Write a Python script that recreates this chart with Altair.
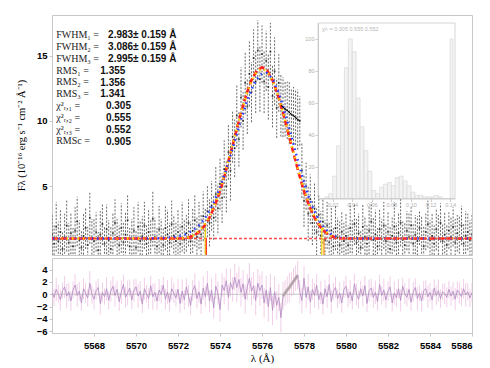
import altair as alt
import pandas as pd

# ---------------- data ----------------
wave = [round(5566.0 + 0.1 * i, 1) for i in range(201)]

flux = [
    1.3, 0.6, 1.9, 0.8, 1.5, 0.2, 1.1, 2.0, 0.7, 1.4,
    0.4, 1.6, 2.3, 0.9, 0.3, 1.2, 1.8, 0.5, 2.6, 1.0,
    0.8, 1.5, 0.1, 1.3, 2.1, 0.6, 1.7, 0.9, 0.2, 1.4,
    2.2, 1.1, 0.5, 1.8, 0.7, 1.3, 2.4, 0.4, 1.0, 1.6,
    0.3, 1.9, 0.8, 1.2, 2.0, 0.6, 1.5, 0.9, 2.5, 1.1,
    0.4, 1.7, 1.0, 0.5, 1.8, 1.3, 0.7, 2.1, 1.2, 0.8,
    1.5, 0.6, 1.9, 0.9, 1.4, 2.2, 0.8, 1.6, 2.4, 1.1,
    2.0, 1.3, 2.7, 1.6, 3.1, 2.2, 3.5, 2.6, 4.4, 3.3,
    5.2, 4.1, 6.3, 5.0, 7.6, 6.2, 8.8, 7.9, 10.4, 8.6,
    11.8, 10.0, 12.9, 11.1, 13.6, 12.2, 14.8, 13.0, 15.4, 13.2,
    15.1, 13.0, 14.6, 12.6, 15.3, 11.9, 13.8, 11.0, 12.9, 11.2,
    11.05, 10.9, 10.8, 10.65, 10.5, 10.4, 10.25, 10.1, 10.0, 6.2,
    3.9, 5.0, 2.9, 4.0, 2.2, 3.3, 1.5, 2.8, 1.2, 2.3,
    0.9, 2.0, 0.7, 1.6, 0.4, 1.8, 1.1, 0.5, 1.5, 0.8,
    1.2, 0.5, 1.8, 1.0, 2.1, 0.7, 1.4, 0.3, 1.9, 1.1,
    0.6, 1.6, 2.3, 0.9, 1.3, 0.4, 1.7, 1.0, 2.0, 0.8,
    1.5, 0.2, 1.2, 1.9, 0.7, 1.4, 2.2, 0.9, 0.5, 1.6,
    1.1, 2.0, 0.6, 1.3, 0.8, 1.8, 1.0, 0.4, 1.5, 2.1,
    0.9, 1.2, 0.6, 1.7, 1.0, 2.2, 0.8, 1.3, 0.5, 1.6,
    1.1, 1.9, 0.7, 1.4, 1.0, 2.0, 0.6, 1.2, 1.5, 0.9,
    1.3,
]

flux_err = [
    1.6, 1.4, 1.9, 1.5, 1.7, 1.3, 1.8, 2.0, 1.5, 1.6,
    1.4, 1.8, 1.9, 1.5, 1.3, 1.7, 1.6, 1.4, 2.0, 1.5,
    1.7, 1.5, 1.4, 1.8, 1.6, 1.3, 1.9, 1.5, 1.7, 1.6,
    1.8, 1.4, 1.5, 1.9, 1.6, 1.7, 2.0, 1.4, 1.5, 1.8,
    1.3, 1.9, 1.6, 1.5, 1.8, 1.4, 1.7, 1.6, 2.1, 1.5,
    1.4, 1.8, 1.5, 1.3, 1.7, 1.9, 1.5, 1.8, 1.6, 1.4,
    1.7, 1.5, 1.9, 1.6, 1.4, 1.8, 1.5, 1.7, 2.0, 1.6,
    1.8, 1.6, 1.9, 1.7, 2.0, 1.8, 1.9, 1.7, 2.1, 1.9,
    2.0, 1.9, 2.2, 2.0, 2.1, 2.3, 2.0, 2.2, 2.4, 2.1,
    2.3, 2.2, 2.4, 2.1, 2.5, 2.3, 2.2, 2.4, 2.3, 2.5,
    2.2, 2.4, 2.3, 2.5, 2.2, 2.4, 2.6, 2.3, 2.2, 2.4,
    2.3, 2.1, 2.2, 2.4, 2.0, 2.2, 2.1, 2.3, 1.9, 2.1,
    2.0, 1.8, 2.1, 1.9, 1.7, 2.0, 1.8, 1.6, 1.9, 1.7,
    1.5, 1.8, 1.6, 1.9, 1.4, 1.7, 1.5, 1.8, 1.6, 1.4,
    1.7, 1.5, 1.9, 1.4, 1.6, 1.8, 1.5, 1.3, 1.7, 1.6,
    1.4, 1.8, 1.5, 1.7, 1.9, 1.4, 1.6, 1.5, 1.8, 1.3,
    1.6, 1.7, 1.4, 1.9, 1.5, 1.6, 1.8, 1.4, 1.7, 1.5,
    1.8, 1.4, 1.6, 1.5, 1.9, 1.3, 1.7, 1.6, 1.4, 1.8,
    1.5, 1.7, 1.4, 1.6, 1.8, 1.5, 1.3, 1.7, 1.6, 1.4,
    1.6, 1.5, 1.8, 1.4, 1.7, 1.5, 1.6, 1.9, 1.4, 1.5,
    1.6,
]

resid = [
    0.3, -0.5, 0.8, 0.1, -0.9, 0.6, 1.2, -0.3, 0.4, -1.1,
    0.7, 1.5, -0.2, 0.5, -1.4, 0.9, 0.2, -0.6, 1.8, 0.0,
    -0.8, 0.6, 1.1, -1.5, 0.3, -0.4, 0.9, -1.0, 0.5, 1.3,
    -0.2, 0.8, -1.2, 0.4, 1.6, -0.5, 0.2, 1.0, -0.9, 0.6,
    1.2, -0.3, 0.5, -1.6, 0.9, 0.1, -0.7, 1.4, -0.4, 0.3,
    -1.1, 0.7, 0.0, 1.5, -0.8, 0.4, -1.3, 0.9, 0.2, -0.6,
    0.8, -1.5, 0.5, -0.9, 1.2, -0.3, -1.8, 0.6, 1.4, -0.7,
    0.4, -1.6, 1.0, -0.4, 1.8, -1.1, 0.7, -2.2, 1.3, 0.2,
    -2.5, 1.5, 0.6, 2.2, -0.5, 1.9, 0.8, 2.8, 1.1, 2.4,
    0.3, 1.7, -0.8, 1.2, 2.6, 0.5, 1.4, -1.0, 1.8, 0.6,
    1.5, -1.4, 0.7, -2.0, 1.1, -2.6, 0.4, -1.8, -0.5, -3.8,
    -0.3, 0.2, 0.7, 1.1, 1.6, 2.1, 2.6, 3.1, 0.4, -1.0,
    2.6, -0.5, 1.2, -1.3, 0.8, -0.2, 1.5, -0.9, 0.3, -1.6,
    0.9, -0.4, 1.6, -1.2, 0.5, 1.1, -0.7, 0.2, -1.4, 0.8,
    1.3, -0.6, 0.4, -1.1, 1.7, 0.0, -0.8, 0.9, -0.3, 1.4,
    -1.5, 0.6, 1.0, -0.5, 0.3, -1.2, 1.6, -0.2, 0.7, -0.9,
    0.5, 1.2, -1.4, 0.2, -0.6, 0.9, -1.0, 1.3, 0.1, -0.5,
    0.8, -1.3, 0.4, 1.1, -0.7, 0.2, -1.1, 0.6, 0.9, -0.4,
    0.3, -0.9, 1.0, -0.2, 0.6, -0.7, 0.4, 0.1, -0.5, 0.8,
    -0.3, 0.5, -0.8, 0.7, 0.2, -0.4, 0.9, -0.1, 0.4, -0.6,
    0.3,
]

model_wave = [5566.0,
              5571.0, 5571.25, 5571.5, 5571.75, 5572.0, 5572.25, 5572.5, 5572.75,
              5573.0, 5573.25, 5573.5, 5573.75, 5574.0, 5574.25, 5574.5, 5574.75,
              5575.0, 5575.25, 5575.5, 5575.75, 5576.0, 5576.25, 5576.5, 5576.75,
              5577.0, 5577.25, 5577.5, 5577.75, 5578.0, 5578.25, 5578.5, 5578.75,
              5579.0, 5579.25, 5579.5, 5579.75, 5580.0, 5580.25, 5580.5, 5580.75,
              5581.0, 5586.0]
model_red = [1.00,
             1.00, 1.00, 1.00, 1.00, 1.00, 1.02, 1.08, 1.22,
             1.50, 1.95, 2.60, 3.50, 4.60, 6.00, 7.52, 9.07,
             10.61, 12.01, 13.12, 13.85, 14.10, 13.85, 13.12, 12.01,
             10.61, 9.07, 7.52, 6.00, 4.60, 3.50, 2.60, 1.95,
             1.50, 1.22, 1.08, 1.02, 1.00, 1.00, 1.00, 1.00,
             1.00, 1.00]
model_yellow = [1.00,
                1.00, 1.00, 1.00, 1.00, 1.00, 1.03, 1.10, 1.26,
                1.56, 2.03, 2.70, 3.60, 4.72, 6.10, 7.60, 9.12,
                10.62, 11.98, 13.05, 13.76, 14.00, 13.76, 13.05, 11.98,
                10.62, 9.12, 7.60, 6.10, 4.72, 3.60, 2.70, 2.03,
                1.56, 1.26, 1.10, 1.03, 1.00, 1.00, 1.00, 1.00,
                1.00, 1.00]
model_blue = [1.00,
              1.01, 1.03, 1.05, 1.09, 1.16, 1.26, 1.42, 1.67,
              2.01, 2.49, 3.12, 3.92, 4.91, 6.06, 7.34, 8.71,
              10.07, 11.33, 12.40, 13.19, 13.63, 13.66, 13.22, 12.34,
              11.13, 9.73, 8.22, 6.72, 5.31, 4.05, 3.08, 2.30,
              1.75, 1.38, 1.16, 1.05, 1.02, 1.00, 1.00, 1.00,
              1.00, 1.00]

continuum_level = [1.0]

vline_wave = [5573.3, 5573.35, 5578.85, 5578.95]
vline_top = [1.8, 1.0, 1.8, 1.0]
vline_color = ["#f2d600", "#ff3030", "#f2d600", "#ff8c00"]

hist_left = [0.012, 0.016, 0.020, 0.024, 0.028, 0.032, 0.036, 0.040, 0.044, 0.048,
             0.052, 0.056, 0.060, 0.064, 0.068, 0.072, 0.076, 0.080, 0.084, 0.088,
             0.092, 0.096, 0.100, 0.104, 0.108, 0.112, 0.116, 0.120, 0.124, 0.128,
             0.140]
hist_right = [0.016, 0.020, 0.024, 0.028, 0.032, 0.036, 0.040, 0.044, 0.048, 0.052,
              0.056, 0.060, 0.064, 0.068, 0.072, 0.076, 0.080, 0.084, 0.088, 0.092,
              0.096, 0.100, 0.104, 0.108, 0.112, 0.116, 0.120, 0.124, 0.128, 0.132,
              0.143]
hist_count = [1, 3, 14, 33, 55, 82, 100, 92, 63, 45,
              30, 17, 5, 3, 7, 9, 10, 8, 13, 14,
              11, 8, 4, 2, 2, 1, 1, 1, 2, 1,
              100]

stat_names = ["FWHM\u2081 =", "FWHM\u2082 =", "FWHM\u2083 =",
              "RMS\u2081 =", "RMS\u2082 =", "RMS\u2083 =",
              "\u03c7\u00b2\u1d63,\u2081 =", "\u03c7\u00b2\u1d63,\u2082 =", "\u03c7\u00b2\u1d63,\u2083 =",
              "RMSc ="]
fwhm_vals = ["2.983\u00b1 0.159 \u00c5", "3.086\u00b1 0.159 \u00c5", "2.995\u00b1 0.159 \u00c5"]
rms_vals = ["1.355", "1.356", "1.341"]
chi_vals = ["0.305", "0.555", "0.552", "0.905"]

resid_ticks = [-6, -4, -2, 0, 2, 4]

# ---------------- frames ----------------
spec = pd.DataFrame({"wave": wave, "flux": flux, "err": flux_err, "resid": resid})
spec["lo"] = spec["flux"] - spec["err"]
spec["hi"] = spec["flux"] + spec["err"]
spec["rlo"] = spec["resid"] - spec["err"]
spec["rhi"] = spec["resid"] + spec["err"]

models = pd.DataFrame({"wave": model_wave, "red": model_red,
                       "yellow": model_yellow, "blue": model_blue})
vlines = pd.DataFrame({"wave": vline_wave, "top": vline_top, "col": vline_color})
hist = pd.DataFrame({"a": hist_left, "b": hist_right, "n": hist_count})
one = pd.DataFrame({"k": [0]})

SERIF = "Liberation Serif"
SANS = "Liberation Sans"

xs = alt.Scale(domain=[5566, 5586], nice=False, zero=False)
ys = alt.Scale(domain=[-0.26, 18.1], nice=False, zero=False)


def X(field):
    return alt.X(field, scale=xs, axis=None)


base = alt.Chart(spec)

err_main = base.mark_rule(strokeDash=[2, 1.5], strokeWidth=0.9, color="#202020",
                          opacity=0.75, clip=True).encode(
    x=X("wave:Q"),
    y=alt.Y("lo:Q", scale=ys,
            axis=alt.Axis(title="F\u03bb (10\u207b\u00b9\u2076 erg s\u207b\u00b9 cm\u207b\u00b2 \u00c5\u207b\u00b9)",
                          values=[5, 10, 15], tickSize=3, domain=False, labelOverlap=False,
                          tickColor="#c8c8c8", titleFont=SERIF, titleFontSize=10.5,
                          titleFontWeight="normal", titlePadding=10)),
    y2="hi:Q",
)
pts_main = base.mark_square(size=3, color="black", clip=True).encode(
    x=X("wave:Q"), y=alt.Y("flux:Q", scale=ys))

mask_line = base.transform_filter(
    (alt.datum.wave > 5576.85) & (alt.datum.wave < 5577.85)
).mark_line(color="black", strokeWidth=1, clip=True).encode(
    x=X("wave:Q"), y=alt.Y("flux:Q", scale=ys))

cont = alt.Chart(pd.DataFrame({"c": continuum_level})).mark_rule(
    color="#ff3838", strokeDash=[3, 2], strokeWidth=1.5, opacity=0.9).encode(
    y=alt.Y("c:Q", scale=ys))

mbase = alt.Chart(models)
m_red = mbase.mark_line(color="#ff2020", strokeWidth=2.6, strokeDash=[6, 3], clip=True).encode(
    x=X("wave:Q"), y=alt.Y("red:Q", scale=ys))
m_yellow = mbase.mark_line(color="#ffd400", strokeWidth=2.4, strokeDash=[1.5, 4],
                           strokeDashOffset=2, clip=True).encode(
    x=X("wave:Q"), y=alt.Y("yellow:Q", scale=ys))
m_blue = mbase.mark_line(color="#2a3cff", strokeWidth=2.4, strokeDash=[1.5, 4],
                         strokeDashOffset=4.5, clip=True).encode(
    x=X("wave:Q"), y=alt.Y("blue:Q", scale=ys))

vl = alt.Chart(vlines).mark_rule(strokeWidth=1.2, clip=True).encode(
    x=X("wave:Q"), y=alt.Y("top:Q", scale=ys), y2=alt.datum(-0.26),
    color=alt.Color("col:N", scale=None))

txt_names = alt.Chart(one).mark_text(
    text="\n".join(stat_names), lineBreak="\n", align="left", baseline="top",
    font=SERIF, fontSize=10, lineHeight=11.8, color="#222").encode(
    x=alt.datum(5566.2), y=alt.datum(16.93))
txt_fwhm = alt.Chart(one).mark_text(
    text="\n".join(fwhm_vals), lineBreak="\n", align="left", baseline="top",
    font=SANS, fontSize=10, fontWeight="bold", lineHeight=11.8, color="#111").encode(
    x=alt.datum(5568.67), y=alt.datum(16.93))
txt_rms = alt.Chart(one).mark_text(
    text="\n".join(rms_vals), lineBreak="\n", align="left", baseline="top",
    font=SANS, fontSize=10, fontWeight="bold", lineHeight=11.8, color="#111").encode(
    x=alt.datum(5568.3), y=alt.datum(14.22))
txt_chi = alt.Chart(one).mark_text(
    text="\n".join(chi_vals), lineBreak="\n", align="left", baseline="top",
    font=SANS, fontSize=10, fontWeight="bold", lineHeight=11.8, color="#111").encode(
    x=alt.datum(5568.57), y=alt.datum(11.51))

main_layers = alt.layer(err_main, pts_main, m_red, m_yellow, m_blue, cont,
                        vl, mask_line, txt_names, txt_fwhm, txt_rms, txt_chi)

# ---------------- inset ----------------
ixs = alt.Scale(domain=[0.005, 0.145], range=[266, 403], nice=False, zero=False)
iys = alt.Scale(domain=[0, 110], range=[183.5, 8], nice=False, zero=False)

hbars = alt.Chart(hist).mark_rect(fill="#f3f3f3", stroke="#d4d4d4", strokeWidth=0.6).encode(
    x=alt.X("a:Q", scale=ixs,
            axis=alt.Axis(orient="bottom", offset=-56.5, title=None,
                          values=[0.02, 0.04, 0.06, 0.08, 0.10, 0.12, 0.14], format=".2f",
                          labelFontSize=5.5, labelColor="#b0b0b0", labelFontWeight="normal",
                          tickColor="#cccccc", domainColor="#cccccc", tickSize=3,
                          labelPadding=1, grid=False)),
    x2="b:Q",
    y=alt.Y("n:Q", scale=iys,
            axis=alt.Axis(orient="left", offset=-266, title=None,
                          values=[20, 40, 60, 80, 100], labelFontSize=5.5,
                          labelColor="#b0b0b0", labelFontWeight="normal", tickColor="#cccccc",
                          domainColor="#cccccc", tickSize=3, labelPadding=1, grid=False)),
    y2=alt.datum(0),
)
iframe = alt.Chart(one).mark_rect(fillOpacity=0, stroke="#cccccc", strokeWidth=0.8).encode(
    x=alt.datum(0.005), x2=alt.datum(0.145), y=alt.datum(0), y2=alt.datum(110))
itext = alt.Chart(one).mark_text(
    text="\u03c7\u00b2\u1d63 =  0.305   0.555   0.552", align="left", baseline="middle",
    font=SANS, fontSize=5.5, color="#b8b8b8").encode(
    x=alt.datum(0.009), y=alt.datum(106))

inset_layers = alt.layer(hbars, iframe, itext)

main = alt.layer(main_layers, inset_layers).resolve_scale(
    x="independent", y="independent").properties(width=420, height=240)

# ---------------- residuals ----------------
rys = alt.Scale(domain=[-6.3, 5.9], nice=False, zero=False)
rx_axis = alt.Axis(title="\u03bb (\u00c5)", values=list(range(5568, 5587, 2)),
                   format="d", tickSize=3, domain=False, tickColor="#c8c8c8",
                   labelPadding=4, titleFont=SERIF, titleFontSize=11,
                   titleFontWeight="normal", titlePadding=3)
ry_axis = alt.Axis(title=None, values=resid_ticks, tickSize=3, labelOverlap=False,
                   labelBound=False, labelFlush=False, labelSeparation=0,
                   domain=False, tickColor="#c8c8c8", format="d")

r_err = base.mark_rule(color="#ecc2e2", strokeWidth=0.8, clip=True).encode(
    x=alt.X("wave:Q", scale=xs, axis=rx_axis),
    y=alt.Y("rlo:Q", scale=rys, axis=ry_axis),
    y2="rhi:Q",
)
r_zero = alt.Chart(pd.DataFrame({"z": [0.0]})).mark_rule(color="#b8b8b8", strokeWidth=0.8).encode(
    y=alt.Y("z:Q", scale=rys, axis=ry_axis))
r_ramp = base.transform_filter(
    (alt.datum.wave > 5576.95) & (alt.datum.wave < 5577.75)
).mark_line(color="#bdb4aa", strokeWidth=3, clip=True).encode(
    x=alt.X("wave:Q", scale=xs, axis=rx_axis), y=alt.Y("resid:Q", scale=rys, axis=ry_axis))
r_line = base.mark_line(color="#b088c0", strokeWidth=0.8, clip=True).encode(
    x=alt.X("wave:Q", scale=xs, axis=rx_axis), y=alt.Y("resid:Q", scale=rys, axis=ry_axis))

resid_chart = alt.layer(r_err, r_zero, r_ramp, r_line).properties(width=420, height=75)

chart = alt.vconcat(main, resid_chart, spacing=1).properties(
    padding={"left": 7, "top": 6, "right": 5, "bottom": 2}
).configure_view(stroke="#c8c8c8").configure_axis(
    labelFont=SANS, labelFontSize=9.5, labelColor="black", labelFontWeight="bold",
    titleColor="black", grid=False
)

chart.save("out.html", embed_options={"renderer": "svg", "actions": False})
